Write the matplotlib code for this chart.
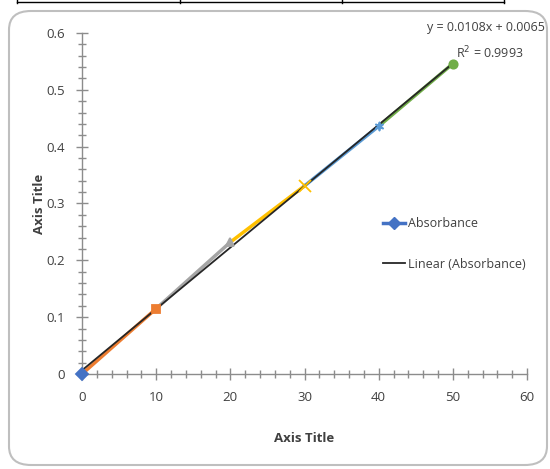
import numpy as np
import matplotlib.pyplot as plt
from matplotlib.patches import FancyBboxPatch
from matplotlib.lines import Line2D
from matplotlib.ticker import MultipleLocator

# datos
concentration = [0, 10, 20, 30, 40, 50]
absorbance = [0.0, 0.115, 0.232, 0.331, 0.436, 0.546]
point_colors = ['#4472C4', '#ED7D31', '#A5A5A5', '#FFC000', '#5B9BD5', '#70AD47']
point_markers = ['D', 's', '^', 'x', '$\u2736$', 'o']

slope = '0.0108'
intercept = '0.0065'
r2 = '0.9993'

plt.rcParams['font.family'] = ['Liberation Sans Narrow', 'Open Sans', 'DejaVu Sans']

fig = plt.figure(figsize=(5.5, 4.69), dpi=100)

# marco redondeado del grafico
frame = FancyBboxPatch((9 / 550, 4 / 469), 538 / 550, 454 / 469,
                       boxstyle="round,pad=0,rounding_size=0.04",
                       transform=fig.transFigure, facecolor='white',
                       edgecolor='#BFBFBF', linewidth=1.5, zorder=-5)
fig.patches.append(frame)

# borde de la tabla arriba
for xa, xb, ya, yb in [(17, 504, 467, 467),
                       (17, 17, 466, 469), (180, 180, 466, 469),
                       (342, 342, 466, 469), (504, 504, 466, 469)]:
    fig.add_artist(Line2D([xa / 550, xb / 550], [ya / 469, yb / 469],
                          transform=fig.transFigure, color='black', lw=1))

ax = fig.add_axes([82 / 550, 95 / 469, 445 / 550, 341 / 469])
ax.set_zorder(2)
ax.set_facecolor('none')

# segmentos con color por punto
for i in range(1, len(concentration)):
    ax.plot(concentration[i - 1:i + 1], absorbance[i - 1:i + 1],
            color=point_colors[i], lw=2.5, zorder=2)
for i in range(len(concentration)):
    ms = 8 if point_markers[i] == 'x' else 6
    ax.plot(concentration[i], absorbance[i], marker=point_markers[i],
            color=point_colors[i], ms=ms, mew=1.3, zorder=4, clip_on=False)

# linea de tendencia
xt = np.array([0, 50])
ax.plot(xt, float(slope) * xt + float(intercept), color='#262626', lw=1.3, zorder=3)

ax.set_xlim(0, 60)
ax.set_ylim(0, 0.6)
ax.xaxis.set_minor_locator(MultipleLocator(2))
ax.yaxis.set_minor_locator(MultipleLocator(0.02))
ax.set_xticks([0, 10, 20, 30, 40, 50, 60])
ax.set_xticklabels(['0', '10', '20', '30', '40', '50', '60'])
ax.set_yticks([0, 0.1, 0.2, 0.3, 0.4, 0.5, 0.6])
ax.set_yticklabels(['0', '0.1', '0.2', '0.3', '0.4', '0.5', '0.6'])

for s in ['top', 'right']:
    ax.spines[s].set_visible(False)
for s in ['left', 'bottom']:
    ax.spines[s].set_color('#8C8C8C')
    ax.spines[s].set_linewidth(1)

ax.tick_params(which='major', direction='inout', length=9, width=1,
               color='#8C8C8C', labelsize=9.5, labelcolor='#404040', pad=8)
ax.tick_params(which='minor', direction='inout', length=6, width=1, color='#8C8C8C')

ax.set_xlabel('Axis Title', fontsize=9.5, fontweight='bold', color='#404040', labelpad=20)
ax.set_ylabel('Axis Title', fontsize=9.5, fontweight='bold', color='#404040', labelpad=0)

fig.text(545 / 550, 441 / 469, f'y = {slope}x + {intercept}', ha='right', va='center',
         fontsize=9, color='#404040')
fig.text(490 / 550, 416 / 469, f'R$^2$ = {r2}', ha='center', va='center',
         fontsize=9, color='#404040')

handles = [Line2D([], [], color='#4472C4', marker='D', lw=2.5, ms=6),
           Line2D([], [], color='#262626', lw=1.3)]
ax.legend(handles, ['Absorbance', 'Linear (Absorbance)'], loc='upper left',
          bbox_to_anchor=(0.665, 0.475), frameon=False, fontsize=9,
          labelspacing=2.2, handlelength=1.8, handletextpad=0.2,
          labelcolor='#404040', borderaxespad=0)

fig.savefig('out.png', dpi=100)
